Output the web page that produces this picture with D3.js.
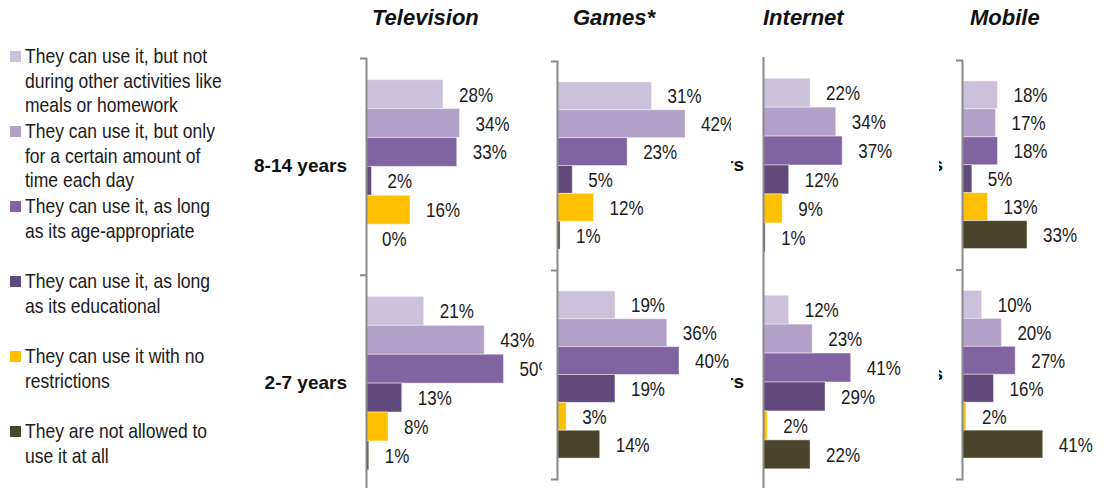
<!DOCTYPE html>
<html>
<head>
<meta charset="utf-8">
<script src="https://cdn.jsdelivr.net/npm/d3@7/dist/d3.min.js"></script>
<style>
  html, body { margin: 0; padding: 0; background: #fff; }
  svg { display: block; }
  text { font-family: "Liberation Sans", Arial, sans-serif; }
</style>
</head>
<body>
<svg id="chart" width="1112" height="488"></svg>
<script>
// Age groups (y categories inside every panel)
const categories = ["8-14 years", "2-7 years"];

// Rule options, in bar order (top to bottom inside each group)
const rules = [
  "They can use it, but not during other activities like meals or homework",
  "They can use it, but only for a certain amount of time each day",
  "They can use it, as long as its age-appropriate",
  "They can use it, as long as its educational",
  "They can use it with no restrictions",
  "They are not allowed to use it at all"
];
// Legend wording broken into the printed lines
const ruleLines = [
  ["They can use it, but not", "during other activities like", "meals or homework"],
  ["They can use it, but only", "for a certain amount of", "time each day"],
  ["They can use it, as long", "as its age-appropriate"],
  ["They can use it, as long", "as its educational"],
  ["They can use it with no", "restrictions"],
  ["They are not allowed to", "use it at all"]
];
const ruleColors = ["#CBC1DB", "#B1A0C7", "#8064A2", "#604A7B", "#FFC000", "#4A452A"];

// Media panels
const media = ["Television", "Games*", "Internet", "Mobile"];

// Share of parents choosing each rule (%), per medium and age group
const tv8to14       = [28, 34, 33, 2, 16, 0];
const tv2to7        = [21, 43, 50, 13, 8, 1];
const games8to14    = [31, 42, 23, 5, 12, 1];
const games2to7     = [19, 36, 40, 19, 3, 14];
const internet8to14 = [22, 34, 37, 12, 9, 1];
const internet2to7  = [12, 23, 41, 29, 2, 22];
const mobile8to14   = [18, 17, 18, 5, 13, 33];
const mobile2to7    = [10, 20, 27, 16, 2, 41];

const panelValues = [
  [tv8to14, tv2to7],
  [games8to14, games2to7],
  [internet8to14, internet2to7],
  [mobile8to14, mobile2to7]
];

// Panel geometry: each panel is its own small chart laid over the previous one
const panelLayout = [
  { left: 0,   axisX: 366, top: 58,   bottom: 491.5, xMax: 60, width: 165,   ticks: true,  titleX: 372 },
  { left: 542, axisX: 557, top: 61,   bottom: 479,   xMax: 50, width: 152.5, ticks: true,  titleX: 573 },
  { left: 731, axisX: 763, top: 56.5, bottom: 490.5, xMax: 50, width: 107,   ticks: false, titleX: 763 },
  { left: 939, axisX: 962, top: 60,   bottom: 479,   xMax: 50, width: 98.5,  ticks: true,  titleX: 970 }
];

// condensed look for body text (horizontal squeeze of a regular sans)
const SQUEEZE = 0.81;
const LEGEND_SQUEEZE = 0.835;
const BODY_SIZE = 21;

const svg = d3.select("#chart");
const W = 1112, H = 488;
const defs = svg.append("defs");

// ---------- Panels ----------
media.forEach((name, p) => {
  const L = panelLayout[p];
  const g = svg.append("g").attr("class", "panel");

  // clip to this panel's own area
  const clipId = "clip-" + p;
  defs.append("clipPath").attr("id", clipId)
    .append("rect").attr("x", L.left).attr("y", 0).attr("width", W - L.left).attr("height", H);
  g.attr("clip-path", `url(#${clipId})`);

  // white panel background hides whatever lies beneath
  g.append("rect")
    .attr("x", L.left).attr("y", 0).attr("width", W - L.left).attr("height", H)
    .attr("fill", "#fff");

  // panel title
  g.append("text")
    .attr("x", L.titleX).attr("y", 25)
    .attr("font-weight", "bold").attr("font-style", "italic")
    .attr("font-size", 22).attr("fill", "#111")
    .text(name);

  // scales
  const y = d3.scaleBand().domain(categories).range([L.top, L.bottom]).paddingInner(0).paddingOuter(0);
  const yInner = d3.scaleBand().domain(d3.range(rules.length)).range([0, y.bandwidth()])
    .paddingInner(0).paddingOuter(0.75);
  const x = d3.scaleLinear().domain([0, L.xMax]).range([L.axisX, L.axisX + L.width]);

  // category labels
  g.append("g")
    .attr("class", "cat-axis")
    .attr("transform", `translate(${L.axisX},0)`)
    .call(d3.axisLeft(y).tickSize(0).tickPadding(19))
    .call(a => a.select(".domain").remove())
    .call(a => a.selectAll("text")
      .attr("font-family", null)
      .attr("font-size", 19).attr("font-weight", "bold").attr("fill", "#111")
      .attr("dy", "0.32em"));

  // bars per age group
  categories.forEach((cat, ci) => {
    const vals = panelValues[p][ci];
    const grp = g.append("g").attr("transform", `translate(0,${y(cat)})`);
    grp.selectAll("rect.bar")
      .data(vals)
      .join("rect")
      .attr("class", "bar")
      .attr("x", x(0))
      .attr("y", (d, i) => yInner(i))
      .attr("width", d => x(d) - x(0))
      .attr("height", yInner.bandwidth())
      .attr("fill", (d, i) => ruleColors[i])
      .attr("stroke", d => d > 0 ? "#fff" : "none")
      .attr("stroke-opacity", 0.45)
      .attr("stroke-width", 1);
    grp.selectAll("text.val")
      .data(vals)
      .join("text")
      .attr("class", "val")
      .attr("transform", (d, i) =>
        `translate(${x(d) + 16},${yInner(i) + yInner.bandwidth() / 2 + 7.5}) scale(${SQUEEZE},1)`)
      .attr("font-size", BODY_SIZE)
      .attr("fill", "#1a1a1a")
      .text(d => d + "%");
  });

  // vertical category axis with bracket ticks at group boundaries
  const yEdge = d3.scaleLinear().domain([0, categories.length]).range([L.top, L.bottom]);
  const axis = d3.axisLeft(yEdge)
    .tickValues(L.ticks ? [1] : [])
    .tickSize(L.ticks ? 6 : 0)
    .tickSizeOuter(L.ticks ? 6 : 0)
    .tickFormat("");
  g.append("g")
    .attr("class", "edge-axis")
    .attr("transform", `translate(${L.axisX},0)`)
    .call(axis)
    .call(a => a.selectAll("path, line").attr("stroke", "#8a8a8a").attr("stroke-width", 2));
});

// ---------- Legend (on top, at the left) ----------
const legend = svg.append("g").attr("class", "legend");
ruleLines.forEach((lines, i) => {
  const baseY = 63 + i * 75;
  legend.append("rect")
    .attr("x", 10).attr("y", baseY - 12)
    .attr("width", 11).attr("height", 11)
    .attr("fill", ruleColors[i]);
  lines.forEach((ln, j) => {
    legend.append("text")
      .attr("transform", `translate(25,${baseY + j * 24.5}) scale(${LEGEND_SQUEEZE},1)`)
      .attr("font-size", BODY_SIZE).attr("fill", "#1a1a1a")
      .text(ln);
  });
});
</script>
</body>
</html>
